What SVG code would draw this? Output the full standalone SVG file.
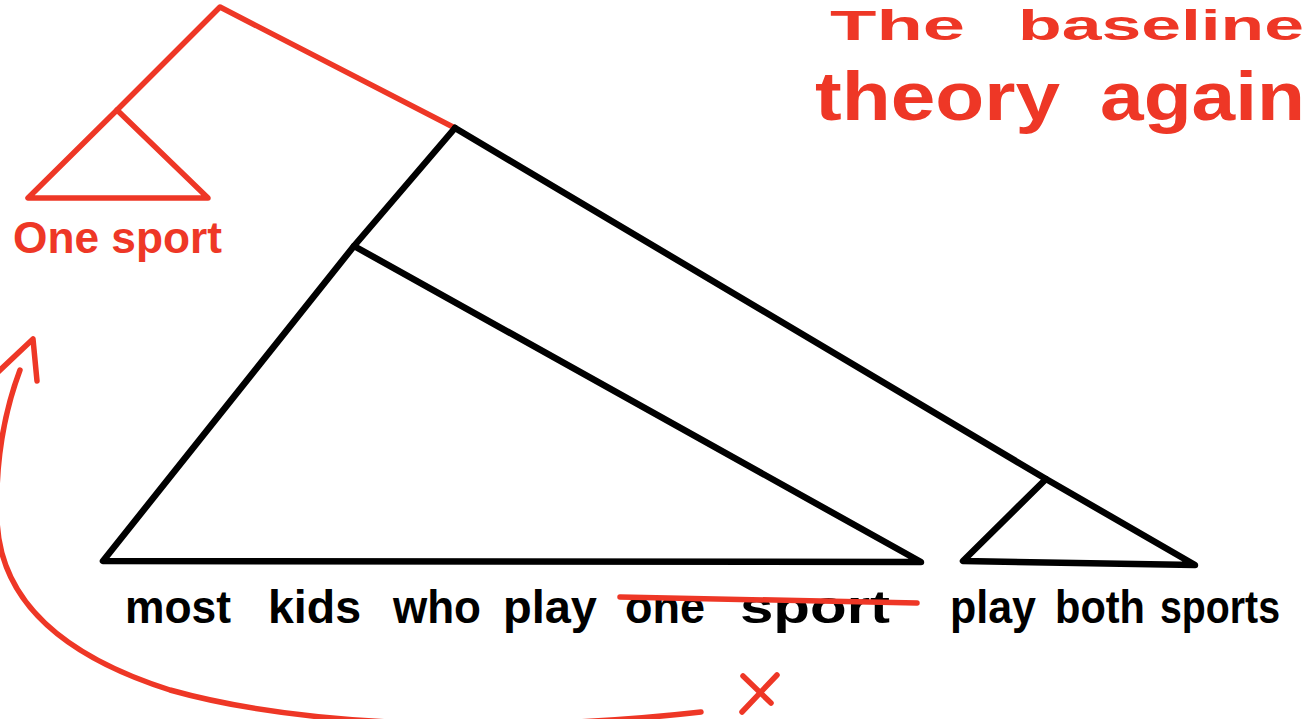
<svg xmlns="http://www.w3.org/2000/svg" width="1307" height="719" viewBox="0 0 1307 719">
  <style>
    .blk { stroke: #000; stroke-width: 6.5; fill: none; stroke-linecap: round; stroke-linejoin: round; }
    .red { stroke: #EE3726; stroke-width: 5.5; fill: none; stroke-linecap: round; stroke-linejoin: round; }
    .tb { font-family: "Liberation Sans", Arial, sans-serif; font-weight: bold; fill: #000; font-size: 46px; }
    .tr { font-family: "Liberation Sans", Arial, sans-serif; font-weight: bold; fill: #EE3726; }
  </style>
  <rect width="1307" height="719" fill="#fff"/>

  <g id="connectors">
    <polyline class="red" points="117,110 220,7 455,128"/>
    <line class="blk" x1="455" y1="128" x2="354" y2="246"/>
    <line class="blk" x1="455" y1="128" x2="1046" y2="479"/>
  </g>

  <g id="node-one-sport">
    <polygon class="red" points="117,110 28,198 208,198"/>
    <text class="tr" x="13" y="253" font-size="45" textLength="209" lengthAdjust="spacingAndGlyphs">One sport</text>
  </g>

  <g id="node-most-kids">
    <polygon class="blk" points="354,246 103,561 921,562"/>
    <text class="tb" x="125" y="623" textLength="106" lengthAdjust="spacingAndGlyphs">most</text>
    <text class="tb" x="268" y="623" textLength="93" lengthAdjust="spacingAndGlyphs">kids</text>
    <text class="tb" x="393" y="623" textLength="88" lengthAdjust="spacingAndGlyphs">who</text>
    <text class="tb" x="503" y="623" textLength="94" lengthAdjust="spacingAndGlyphs">play</text>
    <text class="tb" x="625" y="623" textLength="80" lengthAdjust="spacingAndGlyphs">one</text>
    <text class="tb" x="740" y="623" textLength="150" lengthAdjust="spacingAndGlyphs">sport</text>
    <line class="red" x1="620" y1="597" x2="917" y2="603"/>
  </g>

  <g id="node-play-both">
    <polygon class="blk" points="1046,479 963,561 1195,565"/>
    <text class="tb" x="950" y="623" textLength="86" lengthAdjust="spacingAndGlyphs">play</text>
    <text class="tb" x="1055" y="623" textLength="90" lengthAdjust="spacingAndGlyphs">both</text>
    <text class="tb" x="1160" y="623" textLength="120" lengthAdjust="spacingAndGlyphs">sports</text>
  </g>

  <g id="title">
    <text class="tr" x="830" y="40" font-size="42" textLength="135" lengthAdjust="spacingAndGlyphs">The</text>
    <text class="tr" x="1018" y="40" font-size="42" textLength="286" lengthAdjust="spacingAndGlyphs">baseline</text>
    <text class="tr" x="815" y="120" font-size="68" textLength="245" lengthAdjust="spacingAndGlyphs">theory</text>
    <text class="tr" x="1100" y="120" font-size="68" textLength="205" lengthAdjust="spacingAndGlyphs">again</text>
  </g>

  <g id="annotation">
    <path class="red" stroke-width="3.5" d="M701,712 C560,728 330,735 170,690 C60,655 0,600 -3,520 C-5,460 5,410 20,370"/>
    <polyline class="red" stroke-width="8" points="-2,372 33,339 37,381"/>
    <line class="red" x1="743" y1="676" x2="771" y2="703"/>
    <line class="red" x1="777" y1="675" x2="742" y2="712"/>
  </g>
</svg>
